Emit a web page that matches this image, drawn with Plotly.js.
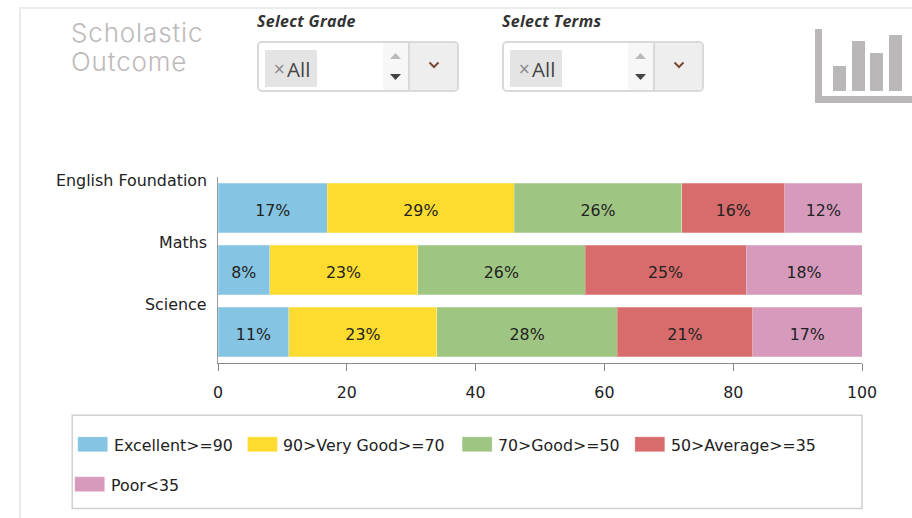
<!DOCTYPE html>
<html><head><meta charset="utf-8">
<script src="https://cdn.plot.ly/plotly-3.0.1.min.js"></script>
<style>
html,body{margin:0;padding:0;background:#fff;width:912px;height:518px;overflow:hidden}
#frame{position:absolute;left:19px;top:7px;width:900px;height:520px;border:2px solid #ebebeb;box-sizing:border-box}
#chart{position:absolute;left:0;top:0;width:912px;height:518px}
.t{position:absolute;white-space:nowrap}
#title{left:71px;top:19px;font:26px/28.5px Inter,"Open Sans",sans-serif;color:#bdbaba;font-weight:300;letter-spacing:.85px}
.lab{top:11px;font:italic 700 16px/20px "Open Sans","Noto Sans",sans-serif;color:#333;letter-spacing:.3px}
.sel{position:absolute;top:41px;width:202px;height:51px;border:2px solid #d9d9d9;border-radius:5px;box-sizing:border-box;background:#fff;overflow:hidden}
.chip{position:absolute;left:6px;top:7px;width:52px;height:37px;background:#e4e4e4}
.x{position:absolute;left:8px;top:9px;font:15px/20px "DejaVu Sans",sans-serif;color:#888}
.all{position:absolute;left:22px;top:7px;font:20.5px/24px "Open Sans",sans-serif;color:#444}
.scr{position:absolute;left:124px;top:0;width:25px;height:47px;background:#f7f7f7}
.btn{position:absolute;left:149px;top:0;width:51px;height:47px;background:#eee;border-left:2px solid #d9d9d9;box-sizing:border-box}
svg.i{position:absolute;left:0;top:0}
</style></head><body>
<div id="frame"></div>
<div id="chart"></div>
<div class="t" id="title">Scholastic<br>Outcome</div>
<div class="t lab" style="left:257px">Select Grade</div>
<div class="t lab" style="left:502px">Select Terms</div>
<div class="sel" style="left:257px"><div class="chip"><span class="x">×</span><span class="all">All</span></div><div class="scr"><svg class="i" width="25" height="47"><path d="M7 16L12.500 10L18 16Z" fill="#bbb"/><path d="M7 31L12.500 37L18 31Z" fill="#444"/></svg></div><div class="btn"><svg class="i" width="48" height="47"><path d="M19.500 19.500L24 24L28.500 19.500" fill="none" stroke="#7a4a32" stroke-width="2"/></svg></div></div>
<div class="sel" style="left:502px"><div class="chip"><span class="x">×</span><span class="all">All</span></div><div class="scr"><svg class="i" width="25" height="47"><path d="M7 16L12.500 10L18 16Z" fill="#bbb"/><path d="M7 31L12.500 37L18 31Z" fill="#444"/></svg></div><div class="btn"><svg class="i" width="48" height="47"><path d="M19.500 19.500L24 24L28.500 19.500" fill="none" stroke="#7a4a32" stroke-width="2"/></svg></div></div>
<svg class="i" width="912" height="518" style="pointer-events:none"><g fill="#b9b7b7"><rect x="815" y="29" width="7" height="74"/><rect x="815" y="96" width="97" height="7"/><rect x="833" y="66" width="13" height="25"/><rect x="852" y="41" width="13" height="50"/><rect x="870" y="53" width="13" height="38"/><rect x="889" y="35" width="13" height="56"/></g></svg>
<script>
const subjects = ["English Foundation", "Maths", "Science"];
const seriesNames = ["Excellent>=90", "90>Very Good>=70", "70>Good>=50", "50>Average>=35", "Poor<35"];
const excellent = [17, 8, 11];
const veryGood = [29, 23, 23];
const good = [26, 26, 28];
const average = [16, 25, 21];
const poor = [12, 18, 17];
const seriesColors = ["#85c4e3", "#fddc2f", "#9fc583", "#d86c6c", "#d69abd"];
const xTicks = [0, 20, 40, 60, 80, 100];
const allSeries = [excellent, veryGood, good, average, poor];

const W = 912, H = 518, L = 217.5, R = 862.5, T = 177, B = 363.5;
const FONT = '"DejaVu Sans", Verdana, sans-serif';
const FS = 15.8;
const px = x => (x - L) / (R - L);
const py = y => (B - y) / (B - T);

const traces = allSeries.map((vals, i) => ({
  type: 'bar', orientation: 'h', name: seriesNames[i], y: subjects, x: vals,
  text: vals.map(v => v + '%'), textposition: 'inside', insidetextanchor: 'middle',
  textangle: 0, constraintext: 'none', textfont: {family: FONT, size: FS, color: '#222'},
  marker: {color: seriesColors[i], line: {color: 'rgba(255,255,255,0.25)', width: 1}},
  hoverinfo: 'x+y+name', showlegend: false
}));

const legendPos = [[77, 445], [247, 445], [462, 445], [635, 445], [74, 485]];
const shapes = [{type: 'rect', xref: 'paper', yref: 'paper', x0: px(71.5), x1: px(862.5), y0: py(416), y1: py(509.500),
  line: {color: '#d0d0d0', width: 1.500}, fillcolor: 'rgba(0,0,0,0)'}];
const annotations = [];
seriesNames.forEach((n, i) => {
  const [x, y] = legendPos[i];
  shapes.push({type: 'rect', xref: 'paper', yref: 'paper', x0: px(x), x1: px(x + 30), y0: py(y - 7.500), y1: py(y + 7.500),
    fillcolor: seriesColors[i], line: {color: 'rgba(255,255,255,0.3)', width: 1}});
  annotations.push({xref: 'paper', yref: 'paper', x: px(x + 35), y: py(y + 1), xanchor: 'left', yanchor: 'middle',
    showarrow: false, text: n.replace(/</g, '&lt;').replace(/>/g, '&gt;'), font: {family: FONT, size: FS, color: '#222'}, borderpad: 0});
});
subjects.forEach(s => annotations.push({xref: 'paper', yref: 'y', x: 0, y: s, xanchor: 'right', yanchor: 'middle',
  xshift: -9.5, yshift: 28, showarrow: false, text: s, font: {family: FONT, size: FS + 0.1, color: '#222'}}));

Plotly.newPlot('chart', traces, {
  width: W, height: H, paper_bgcolor: 'rgba(0,0,0,0)', plot_bgcolor: 'rgba(0,0,0,0)',
  margin: {l: L, r: W - R, t: T, b: H - B, pad: 0},
  barmode: 'stack', bargap: 0.194, showlegend: false, shapes, annotations,
  xaxis: {range: [0, 100], tickvals: xTicks, ticks: 'outside', ticklen: 7, tickwidth: 1, tickcolor: '#888',
    ticklabelstandoff: 8, showline: true, linecolor: '#888', linewidth: 1, showgrid: false, zeroline: false,
    tickfont: {family: FONT, size: FS, color: '#222'}, fixedrange: true},
  yaxis: {categoryorder: 'array', categoryarray: subjects, autorange: false, range: [2.5, -0.5],
    showticklabels: false, ticks: '', showline: true, linecolor: '#999', linewidth: 1, showgrid: false, zeroline: false, fixedrange: true},
  font: {family: FONT}
}, {displayModeBar: false}).then(() => {
  document.querySelectorAll('#chart text.bartext').forEach(t => {
    t.setAttribute('transform', 'translate(0,2) ' + (t.getAttribute('transform') || ''));
  });
});
</script>
</body></html>
